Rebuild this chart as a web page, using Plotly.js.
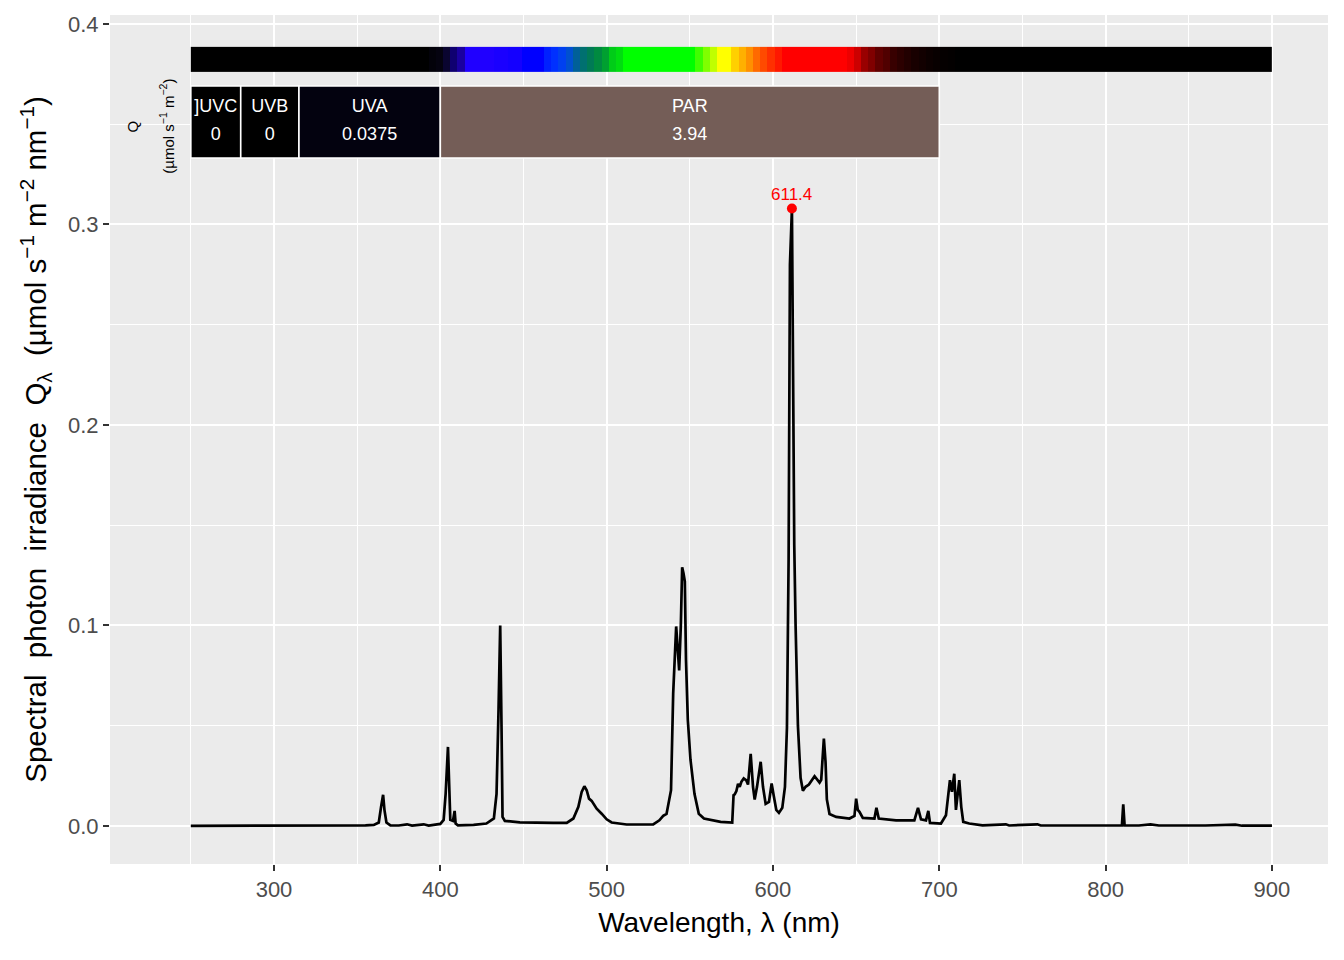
<!DOCTYPE html>
<html>
<head>
<meta charset="utf-8">
<script src="https://cdn.plot.ly/plotly-3.0.1.min.js"></script>
<style>html,body{margin:0;padding:0;background:#fff;}#chart{width:1344px;height:960px;}</style>
</head>
<body>
<div id="chart"></div>
<script>
// ---- spectrum (wavelength nm, spectral photon irradiance) ----
const wl = [250,300,330,335,340,345,350,355,360,363,364.4,365.6,366.4,367.6,370,375,380,383,390,393,398,400,402,403.2,404.6,405.4,406,407.6,408.6,409.2,410.6,420,427.7,432.2,433.8,435,436,436.8,437.4,438.8,447.8,467.9,476,480,483,485,486.6,488,489.4,491,494,497,500,503,512,528,531.7,534,536,538.7,540,541.8,542.6,543.6,544.6,545.4,546.2,547,547.7,548.8,550.4,552.8,555.4,558.5,568.5,575.5,576.3,577,578,579,580,581,582.4,584,585,586.6,588,589,590.4,592.6,594,595.6,597.6,599.2,600.4,602,603.6,605.6,607.2,608.4,609.4,610.2,611.4,612,612.8,613.6,615,616.6,618,619.6,621.6,625,628,629,630.6,631.6,632.4,634,638,646,649,650,651,652,654,661,662.2,663.6,674,685,687.2,689,692,693.4,694.4,701,704,706.4,707.6,709,710,712,713.2,714.4,718,726,740,742,759,761,790,809.8,810.6,811.4,820,827,832,860,878,882,900];
const q = [0,0,0,0.0003,0.0001,0.0003,0.0002,0.0003,0.0005,0.0017,0.0096,0.0155,0.008,0.0017,0.0003,0.0002,0.0008,0.0002,0.0008,0.0002,0.0008,0.001,0.003,0.016,0.0394,0.016,0.003,0.0025,0.0075,0.0012,0.0003,0.0005,0.0012,0.0037,0.016,0.058,0.1,0.049,0.0045,0.0025,0.0018,0.0015,0.0015,0.0037,0.0095,0.017,0.0198,0.0178,0.0136,0.0125,0.0086,0.0061,0.0033,0.0017,0.0007,0.0008,0.0028,0.005,0.006,0.0178,0.066,0.0995,0.089,0.0776,0.1,0.129,0.126,0.122,0.083,0.053,0.033,0.016,0.006,0.0037,0.002,0.0017,0.0153,0.0157,0.0174,0.021,0.0195,0.022,0.0237,0.0227,0.0206,0.0359,0.0195,0.0132,0.0195,0.032,0.0195,0.011,0.012,0.0212,0.0153,0.008,0.0065,0.009,0.0195,0.049,0.133,0.28,0.308,0.22,0.14,0.1,0.05,0.024,0.0175,0.0195,0.0206,0.0248,0.0216,0.023,0.0436,0.032,0.0132,0.0059,0.0045,0.0037,0.005,0.0136,0.008,0.007,0.004,0.0037,0.009,0.0037,0.0028,0.0028,0.009,0.0033,0.0028,0.0075,0.0015,0.0012,0.0053,0.0228,0.017,0.026,0.008,0.0228,0.0095,0.002,0.0012,0.0003,0.0008,0.0002,0.0008,0.0002,0.0002,0.0002,0.0108,0.0003,0.0002,0.0008,0.0002,0.0002,0.0006,0.0001,0.0001];

// ---- peak ----
const peakWl = [611.4];
const peakQ = [0.308];
const peakLabel = ["611.4"];

// ---- waveband summary boxes ----
const bandNames = ["]UVC","UVB","UVA","PAR"];
const bandLo = [250,280,315,400];
const bandHi = [280,315,400,700];
const bandQ = ["0","0","0.0375","3.94"];
const bandFill = ["#000000","#000000","#03020f","#745d57"];

// ---- colour bar (wavelength -> colour anchors) ----
const barLo = 250, barHi = 900, barSteps = 150;
const colStart = [250,393,397.3,401.6,406,410.3,414.7,432,441,449,463,467.3,471.7,476,480.3,484.7,489,493.3,497.6,502,506.3,510.7,554,558.3,562.7,567,575.7,580,584.3,588.7,593,597.3,601.7,606,645.3,649.7,654,658.3,662.7,667,671.3,675.7,680,684.3,688.7,693,697.3,701.7,706,710.3];
const colHex = ["#000000","#03020a","#050310","#0a0530","#0f0070","#1a00a0","#2000ff","#1a00ff","#1400ff","#0000ff","#0020ff","#0030ff","#0040f0","#0050d0","#006098","#007070","#007a55","#008a40","#00a030","#00cc18","#00dd10","#00ff00","#40ff00","#80ff00","#c0ff00","#ffff00","#ffd000","#ffb000","#ff9000","#ff6a00","#ff4a00","#ff3000","#ff1800","#ff0000","#ee0000","#cc0000","#990000","#800000","#600000","#500000","#380000","#2c0000","#220000","#180000","#120000","#0c0000","#080000","#050000","#030000","#000000"];

const stepW = (barHi - barLo) / barSteps;
const segEdges = [], segZ = [], segScale = [];
for (let k = 0; k <= barSteps; k++) segEdges.push(barLo + k * stepW);
for (let k = 0; k < barSteps; k++) {
  const m = barLo + (k + 0.5) * stepW;
  let c = colHex[0];
  for (let j = 0; j < colStart.length; j++) if (colStart[j] <= m) c = colHex[j];
  segZ.push(k + 0.5);
  segScale.push([k / barSteps, c], [(k + 1) / barSteps, c]);
}
const barBase = 0.3761, barTop = 0.3886;
const boxBase = 0.3332, boxTop = 0.3691;
const labelY = 0.3582, valueY = 0.3443;
const qLabelY = 0.3488;

const font = "Liberation Sans, Arial, sans-serif";
const gap = "\u00a0 ";

const traces = [
  {type:'heatmap', x:segEdges, y:[barBase, barTop], z:[segZ], zmin:0, zmax:barSteps,
   colorscale:segScale, showscale:false, hoverinfo:'skip', zsmooth:false},
  {type:'bar', x:bandLo.map((l,i)=>(l+bandHi[i])/2), y:bandLo.map(()=>boxTop-boxBase), base:boxBase,
   width:bandLo.map((l,i)=>bandHi[i]-l),
   marker:{color:bandFill, line:{color:'#ffffff', width:1.6}}, hoverinfo:'skip', showlegend:false},
  {type:'scatter', mode:'text', x:bandLo.map((l,i)=>(l+bandHi[i])/2), y:bandLo.map(()=>labelY),
   text:bandNames, textfont:{family:font, size:18, color:'#ffffff'}, hoverinfo:'skip', showlegend:false},
  {type:'scatter', mode:'text', x:bandLo.map((l,i)=>(l+bandHi[i])/2), y:bandLo.map(()=>valueY),
   text:bandQ, textfont:{family:font, size:18, color:'#ffffff'}, hoverinfo:'skip', showlegend:false},
  {type:'scatter', mode:'lines', x:wl, y:q, line:{color:'#000000', width:2.7}, showlegend:false},
  {type:'scatter', mode:'markers', x:peakWl, y:peakQ,
   marker:{color:'#ff0000', size:10}, showlegend:false}
];

const layout = {
  width:1344, height:960,
  margin:{l:110, r:16, t:15, b:96},
  paper_bgcolor:'#ffffff', plot_bgcolor:'#ebebeb',
  barmode:'overlay', bargap:0,
  font:{family:font, color:'#000000'},
  xaxis:{range:[201.4,933.7], tick0:0, dtick:100, ticks:'outside', ticklen:6, tickwidth:2, tickcolor:'#333333',
    tickfont:{family:font, size:22, color:'#4d4d4d'}, showgrid:true, gridcolor:'#ffffff', gridwidth:2,
    minor:{dtick:50, tick0:0, showgrid:true, gridcolor:'#ffffff', gridwidth:1, ticks:''},
    zeroline:false, showline:false, automargin:false,
    title:{text:'Wavelength, λ (nm)', font:{family:font, size:28, color:'#000000'}, standoff:10}},
  yaxis:{range:[-0.019,0.4045], tick0:0, dtick:0.1, tickformat:'.1f', ticks:'outside', ticklen:6, tickwidth:2, tickcolor:'#333333',
    tickfont:{family:font, size:22, color:'#4d4d4d'}, showgrid:true, gridcolor:'#ffffff', gridwidth:2,
    minor:{dtick:0.05, tick0:0, showgrid:true, gridcolor:'#ffffff', gridwidth:1, ticks:''},
    zeroline:false, showline:false, automargin:false,
    title:{text:'Spectral'+gap+'photon'+gap+'irradiance'+gap+'Q<sub>λ</sub>'+gap+'(µmol s<sup>−1</sup> m<sup>−2</sup> nm<sup>−1</sup>)', font:{family:font, size:29.5, color:'#000000'}, standoff:12}},
  annotations:[
    {x:peakWl[0], y:peakQ[0], xref:'x', yref:'y', text:peakLabel[0], showarrow:false, yshift:14, font:{family:font, size:17, color:'#ff0000'}},
    {x:215.2, y:qLabelY, xref:'x', yref:'y', text:'Q', textangle:-90, showarrow:false, font:{family:font, size:15, color:'#000000'}},
    {x:235.7, y:qLabelY, xref:'x', yref:'y', text:'(µmol s<sup>−1</sup> m<sup>−2</sup>)', textangle:-90, showarrow:false, font:{family:font, size:15, color:'#000000'}}
  ]
};

Plotly.newPlot('chart', traces, layout, {displayModeBar:false, staticPlot:true});
</script>
</body>
</html>
